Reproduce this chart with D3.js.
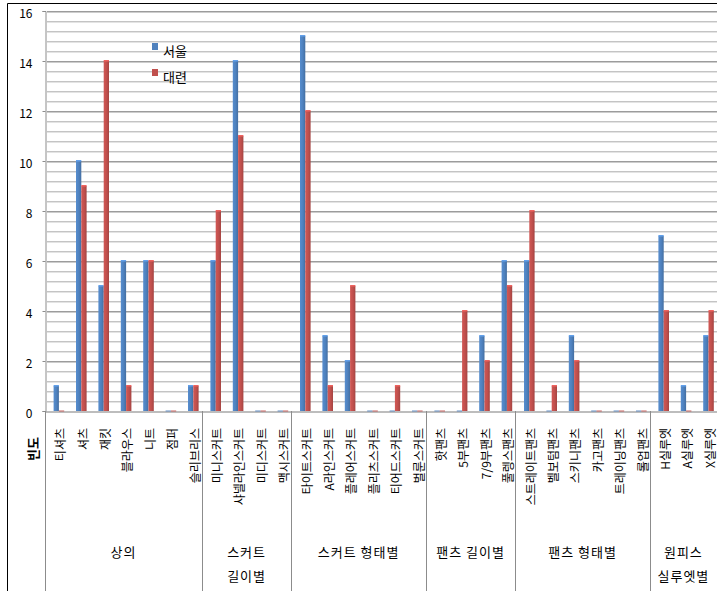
<!DOCTYPE html>
<html>
<head>
<meta charset="utf-8">
<script src="https://cdn.jsdelivr.net/npm/d3@7/dist/d3.min.js"></script>
<style>
  html, body { margin: 0; padding: 0; background: #fff; }
  svg { display: block; }
  text { font-family: "Noto Sans CJK KR", "Noto Sans", sans-serif; fill: #000; }
</style>
</head>
<body>
<svg id="chart" width="717" height="591"></svg>
<script>
// Clothing item frequencies by city
const categories = [
  "티셔츠", "셔츠", "재킷", "블라우스", "니트", "점퍼", "슬리브리스",
  "미니스커트", "샤넬라인스커트", "미디스커트", "맥시스커트",
  "타이트스커트", "A라인스커트", "플레어스커트", "플리츠스커트", "티어드스커트", "벌룬스커트",
  "핫팬츠", "5부팬츠", "7/9부팬츠", "풀렝스팬츠",
  "스트레이트팬츠", "벨보텀팬츠", "스키니팬츠", "카고팬츠", "트레이닝팬츠", "롤업팬츠",
  "H실루엣", "A실루엣", "X실루엣"
];
const seoul  = [1, 10, 5, 6, 6, 0, 1,  6, 14, 0, 0,  15, 3, 2, 0, 0, 0,  0, 0, 3, 6,  6, 0, 3, 0, 0, 0,  7, 1, 3];
const dalian = [0, 9, 14, 1, 6, 0, 1,  8, 11, 0, 0,  12, 1, 5, 0, 1, 0,  0, 4, 2, 5,  8, 1, 2, 0, 0, 0,  4, 0, 4];
const seriesNames = ["서울", "대련"];
const seriesColors = ["#4F81BD", "#C0504D"];
const groups = [
  { lines: ["상의"], size: 7 },
  { lines: ["스커트", "길이별"], size: 4 },
  { lines: ["스커트 형태별"], size: 6 },
  { lines: ["팬츠 길이별"], size: 4 },
  { lines: ["팬츠 형태별"], size: 6 },
  { lines: ["원피스", "실루엣별"], size: 3 }
];
const yTicks = [0, 2, 4, 6, 8, 10, 12, 14, 16];
const yLabel = "빈도";

const svg = d3.select("#chart");
const W = 717, H = 591;
const plotLeft = 45, plotRight = 717, plotTop = 11, plotBase = 411;

const x0 = d3.scaleBand().domain(categories).range([plotLeft, plotRight]).padding(0);
const x1 = d3.scaleBand().domain(seriesNames).range([8.6, 19.2]).padding(0);
const y = d3.scaleLinear().domain([0, 16]).range([plotBase, plotTop]);

// gradients for the shaded column faces
const defs = svg.append("defs");
seriesColors.forEach((c, i) => {
  const g = defs.append("linearGradient").attr("id", "grad" + i)
    .attr("x1", "0%").attr("x2", "100%").attr("y1", "0%").attr("y2", "0%");
  const col = d3.color(c);
  g.append("stop").attr("offset", "0%").attr("stop-color", col.brighter(0.25));
  g.append("stop").attr("offset", "55%").attr("stop-color", c);
  g.append("stop").attr("offset", "100%").attr("stop-color", col.darker(0.45));
});

// outer frame
svg.append("path")
  .attr("d", `M7.5,${H} V3.5 H${W}`)
  .attr("fill", "none").attr("stroke", "#000").attr("stroke-width", 1);

// horizontal gridlines: minor every 0.4, major every 2
const minor = d3.range(0, 16.0001, 0.4).filter(v => v > 0);
const grid = svg.append("g");
minor.forEach(v => {
  const isMajor = Math.abs(v / 2 - Math.round(v / 2)) < 1e-6;
  const yy = Math.round(y(v)) + 0.5;
  grid.append("line").attr("x1", plotLeft + 2).attr("x2", plotRight).attr("y1", yy).attr("y2", yy)
    .attr("stroke", isMajor ? "#9c9c9c" : "#c4c4c4").attr("stroke-width", 1);
  grid.append("line").attr("x1", plotLeft + 2).attr("x2", plotRight).attr("y1", yy + 1).attr("y2", yy + 1)
    .attr("stroke", isMajor ? "#cdcdcd" : "#e4e4e4").attr("stroke-width", 1);
});

// floor line
svg.append("rect").attr("x", plotLeft).attr("y", plotBase).attr("width", plotRight - plotLeft).attr("height", 2)
  .attr("fill", "#bdbdbd");

// y axis
const yAxis = d3.axisLeft(y).tickValues(yTicks).tickSize(3).tickPadding(10);
const ya = svg.append("g").attr("transform", `translate(${plotLeft + 0.5},0)`).call(yAxis);
ya.select(".domain").attr("stroke", "#8c8c8c");
ya.selectAll(".tick line").attr("stroke", "#8c8c8c");
ya.selectAll(".tick text")
  .attr("font-family", "'DejaVu Sans', sans-serif").attr("font-size", 12)
  .attr("dy", "0.5em").style("fill", "#000");

// columns
const bars = svg.append("g");
categories.forEach((cat, i) => {
  [seoul[i], dalian[i]].forEach((v, s) => {
    const bx = x0(cat) + x1(seriesNames[s]);
    const bw = x1.bandwidth();
    if (v > 0) {
      bars.append("rect")
        .attr("x", bx).attr("y", y(v)).attr("width", bw).attr("height", y(0) - y(v))
        .attr("fill", `url(#grad${s})`);
      bars.append("rect")
        .attr("x", bx).attr("y", y(v) - 1).attr("width", bw).attr("height", 1.5)
        .attr("fill", d3.color(seriesColors[s]).brighter(0.6));
    } else {
      bars.append("rect")
        .attr("x", bx).attr("y", y(0) - 1).attr("width", bw).attr("height", 2)
        .attr("fill", seriesColors[s]).attr("opacity", 0.45);
    }
  });
});

// category labels, rotated
const labels = svg.append("g");
categories.forEach(cat => {
  const cx = x0(cat) + x0.bandwidth() / 2 + 3.5;
  labels.append("text")
    .attr("transform", `translate(${cx},428) rotate(-90)`)
    .attr("text-anchor", "end").attr("dominant-baseline", "central")
    .attr("font-size", 12).text(cat);
});

// group separators and group titles
let start = 0;
const sepG = svg.append("g");
sepG.append("line").attr("x1", plotLeft + 0.5).attr("x2", plotLeft + 0.5).attr("y1", plotBase).attr("y2", H)
  .attr("stroke", "#8c8c8c");
groups.forEach(g => {
  const xa = x0(categories[start]);
  const endIdx = start + g.size;
  const xb = endIdx < categories.length ? x0(categories[endIdx]) : plotRight;
  if (endIdx < categories.length) {
    sepG.append("line").attr("x1", Math.round(xb) + 0.5).attr("x2", Math.round(xb) + 0.5)
      .attr("y1", plotBase).attr("y2", H).attr("stroke", "#8c8c8c");
  }
  g.lines.forEach((ln, j) => {
    sepG.append("text")
      .attr("x", (xa + xb) / 2).attr("y", 551 + j * 24)
      .attr("text-anchor", "middle").attr("dominant-baseline", "central")
      .attr("font-size", 13).attr("letter-spacing", 1).text(ln);
  });
  start = endIdx;
});

// axis title
svg.append("text")
  .attr("transform", "translate(32,449) rotate(-90)")
  .attr("text-anchor", "middle").attr("dominant-baseline", "central")
  .attr("font-size", 13).attr("font-weight", "bold").text(yLabel);

// legend
const legend = svg.append("g");
seriesNames.forEach((nm, i) => {
  const ly = 47 + i * 26;
  legend.append("rect").attr("x", 152).attr("y", ly - 4).attr("width", 6).attr("height", 7)
    .attr("fill", seriesColors[i]);
  legend.append("text").attr("x", 163).attr("y", ly + 3)
    .attr("dominant-baseline", "central").attr("font-size", 13).text(nm);
});
</script>
</body>
</html>
